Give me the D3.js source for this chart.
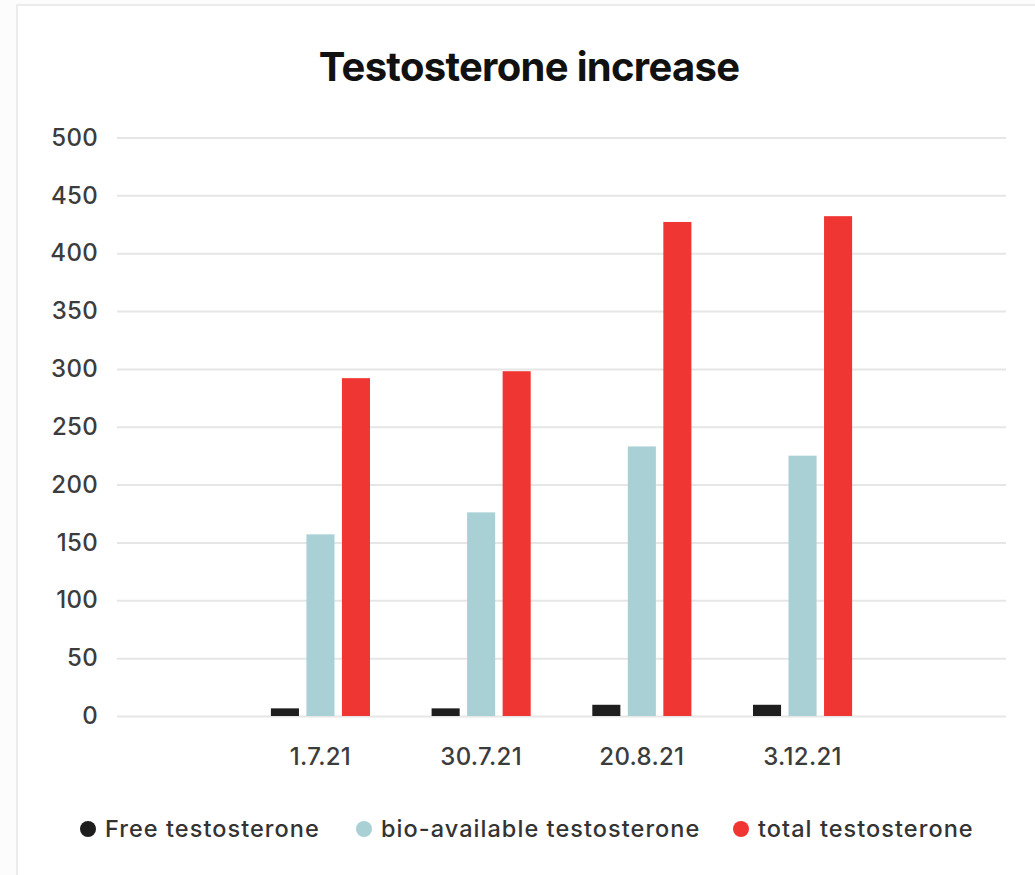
<!DOCTYPE html>
<html>
<head>
<meta charset="utf-8">
<script src="https://cdn.jsdelivr.net/npm/d3@7"></script>
<style>
  html, body { margin: 0; padding: 0; background: #ffffff; }
  svg { display: block; }
</style>
</head>
<body>
<svg id="chart" width="1035" height="875"></svg>
<script>
const categories = ["1.7.21", "30.7.21", "20.8.21", "3.12.21"];
const seriesNames = ["Free testosterone", "bio-available testosterone", "total testosterone"];
const freeValues = [6.6, 6.6, 9.7, 9.7];
const bioValues = [157, 176, 233, 225];
const totalValues = [292, 298, 427, 432];
const yTicks = [0, 50, 100, 150, 200, 250, 300, 350, 400, 450, 500];
const seriesColors = ["#1e1e1e", "#a9d0d5", "#ef3632"];
const titleText = "Testosterone increase";

const seriesValues = [freeValues, bioValues, totalValues];
const data = categories.map((c, i) => ({
  cat: c,
  vals: seriesNames.map((s, j) => ({ key: s, value: seriesValues[j][i], color: seriesColors[j] }))
}));

const svg = d3.select("#chart");
const W = 1035, H = 875;
const font = "Inter, 'Open Sans', sans-serif";

// card border
svg.append("rect").attr("x", 0).attr("y", 0).attr("width", W).attr("height", H).attr("fill", "#fcfcfc");
svg.append("rect").attr("x", 17).attr("y", 5).attr("width", W - 17 + 5).attr("height", H).attr("fill", "#ffffff")
  .attr("stroke", "#ececec").attr("stroke-width", 2);

const plot = { left: 117, right: 1006, top: 137.5, bottom: 716 };

const x0 = d3.scaleBand().domain(categories).range([plot.left, plot.right])
  .paddingInner(0.337).paddingOuter(0.9345);
const x1 = d3.scaleBand().domain(seriesNames).range([0, x0.bandwidth()])
  .paddingInner(0.21).paddingOuter(0.105);
const y = d3.scaleLinear().domain([0, 500]).range([plot.bottom, plot.top]);

// title
svg.append("text").attr("x", 529).attr("y", 81).attr("text-anchor", "middle")
  .attr("font-family", font).attr("font-weight", 700).attr("font-size", 40)
  .attr("letter-spacing", -0.7).attr("fill", "#111").text(titleText);

// gridlines + y labels
const yAxis = d3.axisLeft(y).tickValues(yTicks).tickSize(-(plot.right - plot.left)).tickPadding(19).tickFormat(d3.format("d"));
const gy = svg.append("g").attr("transform", `translate(${plot.left},0)`).call(yAxis);
gy.select(".domain").remove();
gy.selectAll(".tick line").attr("stroke", "#e6e6e6").attr("stroke-width", 2);
gy.selectAll(".tick text").attr("font-family", font).attr("font-size", 24).attr("font-weight", 500)
  .attr("letter-spacing", 0.3).attr("fill", "#3c3c3c");

// bars
const groups = svg.append("g").selectAll("g").data(data).join("g")
  .attr("transform", d => `translate(${x0(d.cat)},0)`);
groups.selectAll("rect").data(d => d.vals).join("rect")
  .attr("x", d => x1(d.key))
  .attr("width", x1.bandwidth())
  .attr("y", d => y(d.value))
  .attr("height", d => y(0) - y(d.value))
  .attr("fill", d => d.color);

// x axis labels
const xAxis = d3.axisBottom(x0).tickSize(0).tickPadding(32);
const gx = svg.append("g").attr("transform", `translate(0,${plot.bottom})`).call(xAxis);
gx.select(".domain").remove();
gx.selectAll(".tick text").attr("font-family", font).attr("font-size", 24).attr("font-weight", 500)
  .attr("letter-spacing", 0.3).attr("fill", "#3c3c3c");

// legend
const legendX = [88, 364, 741];
const leg = svg.append("g").selectAll("g").data(seriesNames).join("g")
  .attr("transform", (d, i) => `translate(${legendX[i]},829)`);
leg.append("circle").attr("r", 8).attr("fill", (d, i) => seriesColors[i]);
leg.append("text").attr("x", 17).attr("y", 8).attr("font-family", font).attr("font-size", 23.5)
  .attr("font-weight", 500).attr("letter-spacing", 1.05)
  .attr("fill", "#333").text(d => d);
</script>
</body>
</html>
